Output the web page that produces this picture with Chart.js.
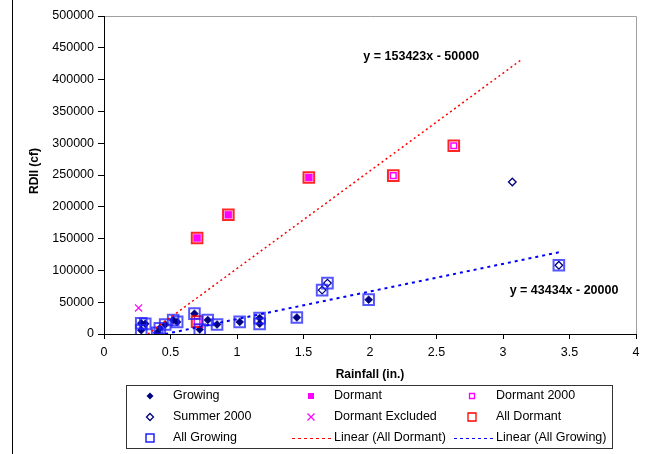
<!DOCTYPE html>
<html>
<head>
<meta charset="utf-8">
<script src="https://cdn.jsdelivr.net/npm/chart.js@4.4.0/dist/chart.umd.min.js"></script>
<style>
  html, body { margin: 0; padding: 0; background: #fff; }
</style>
</head>
<body>
<canvas id="myChart" width="656" height="454"></canvas>
<script>
// values
var growingX = [0.28, 0.31, 0.28, 0.40, 0.42, 0.46, 0.52, 0.55, 0.68, 0.72, 0.78, 0.85, 1.02, 1.17, 1.17, 1.45, 1.99];
var growingY = [17000, 16000, 6000, 2000, 9000, 15000, 22000, 19000, 32000, 7000, 22000, 15000, 19000, 25000, 16000, 26000, 54000];

var summerX = [1.64, 1.68, 3.07, 3.42];
var summerY = [69000, 80000, 239000, 108000];

var dormantX = [0.70, 0.935, 1.54];
var dormantY = [151000, 187500, 246000];

var dormant2000X = [0.70, 2.175, 2.63];
var dormant2000Y = [19500, 249000, 296000];

var excludedX = [0.26];
var excludedY = [41000];

var allDormantX = [0.70, 0.935, 1.54, 0.70, 2.175, 2.63];
var allDormantY = [151000, 187500, 246000, 19500, 249000, 296000];

var allGrowingX = growingX.concat([1.64, 1.68, 3.42]);
var allGrowingY = growingY.concat([69000, 80000, 108000]);

var dormantFitX = [0.33, 3.13];
var dormantFitY = [0, 430000];
var growingFitX = [0.46, 3.42];
var growingFitY = [0, 128500];

var dormantEq = 'y = 153423x - 50000';
var growingEq = 'y = 43434x - 20000';

function pts(xs, ys) {
  return xs.map(function (x, i) { return { x: x, y: ys[i] }; });
}

Chart.defaults.font.family = '"Liberation Sans", Arial, sans-serif';
Chart.defaults.color = '#000';

// marker drawing for the legend box
function marker(ctx, kind, x, y, r, fill, stroke, lw) {
  ctx.save();
  ctx.beginPath();
  if (kind === 'diamond') {
    ctx.moveTo(x - r, y); ctx.lineTo(x, y - r); ctx.lineTo(x + r, y); ctx.lineTo(x, y + r); ctx.closePath();
  } else if (kind === 'square') {
    ctx.rect(x - r, y - r, 2 * r, 2 * r);
  } else if (kind === 'cross') {
    ctx.moveTo(x - r, y - r); ctx.lineTo(x + r, y + r);
    ctx.moveTo(x + r, y - r); ctx.lineTo(x - r, y + r);
  }
  if (fill && kind !== 'cross') { ctx.fillStyle = fill; ctx.fill(); }
  if (stroke) { ctx.strokeStyle = stroke; ctx.lineWidth = lw || 1; ctx.stroke(); }
  ctx.restore();
}

var legendItems = [
  { text: 'Growing', kind: 'diamond', r: 3.5, fill: '#000080' },
  { text: 'Dormant', kind: 'square', r: 3, fill: '#ff00ff' },
  { text: 'Dormant 2000', kind: 'square', r: 2.5, fill: '#fff', stroke: '#ff00ff', lw: 1.3 },
  { text: 'Summer 2000', kind: 'diamond', r: 3.5, fill: '#fff', stroke: '#000080', lw: 1.3 },
  { text: 'Dormant Excluded', kind: 'cross', r: 3.5, stroke: '#ff00ff', lw: 1.2 },
  { text: 'All Dormant', kind: 'square', r: 4, stroke: '#ff0000', lw: 1.3 },
  { text: 'All Growing', kind: 'square', r: 4, stroke: '#2020ff', lw: 1.5 },
  { text: 'Linear (All Dormant)', line: '#ff0000', dash: [3, 3] },
  { text: 'Linear (All Growing)', line: '#0000ff', dash: [3, 3] }
];

var extras = {
  id: 'extras',
  beforeDraw: function (chart) {
    var ctx = chart.ctx;
    ctx.save();
    ctx.fillStyle = '#fff';
    ctx.fillRect(0, 0, chart.width, chart.height);
    // frame line on the far left
    ctx.strokeStyle = '#000';
    ctx.lineWidth = 1;
    ctx.beginPath(); ctx.moveTo(12.5, 0); ctx.lineTo(12.5, chart.height); ctx.stroke();
    // grey top/right border of plot area
    var a = chart.chartArea;
    ctx.strokeStyle = '#a0a0a0';
    ctx.beginPath();
    ctx.moveTo(a.left, a.top + 0.5); ctx.lineTo(a.right + 0.5, a.top + 0.5); ctx.lineTo(a.right + 0.5, a.bottom);
    ctx.stroke();
    ctx.restore();
  },
  afterDraw: function (chart) {
    var ctx = chart.ctx;
    var a = chart.chartArea;
    var xs = chart.scales.x, ys = chart.scales.y;
    ctx.save();
    // axis titles
    ctx.fillStyle = '#000';
    ctx.font = 'bold 12px "Liberation Sans", Arial, sans-serif';
    ctx.textAlign = 'center';
    ctx.textBaseline = 'middle';
    ctx.fillText('Rainfall (in.)', (a.left + a.right) / 2, 375);
    ctx.save();
    ctx.translate(35, (a.top + a.bottom) / 2 - 4);
    ctx.rotate(-Math.PI / 2);
    ctx.fillText('RDII (cf)', 0, 0);
    ctx.restore();
    // trendline equations
    ctx.textAlign = 'left';
    ctx.font = 'bold 12.5px "Liberation Sans", Arial, sans-serif';
    ctx.fillText(dormantEq, xs.getPixelForValue(1.95), ys.getPixelForValue(437000));
    ctx.fillText(growingEq, xs.getPixelForValue(3.05), ys.getPixelForValue(69000));

    // legend box
    ctx.strokeStyle = '#333';
    ctx.lineWidth = 1;
    ctx.strokeRect(126.5, 385.5, 486, 63);
    var colMark = [150, 311, 472], colText = [173, 334, 496], rows = [396, 417, 438];
    ctx.font = '12.5px "Liberation Sans", Arial, sans-serif';
    legendItems.forEach(function (it, i) {
      var c = i % 3, r = Math.floor(i / 3);
      var y = rows[r];
      if (it.line) {
        ctx.save();
        ctx.strokeStyle = it.line;
        ctx.lineWidth = 1.2;
        ctx.setLineDash(it.dash);
        ctx.beginPath(); ctx.moveTo(colText[c] - 42, y + 0.5); ctx.lineTo(colText[c] - 2, y + 0.5); ctx.stroke();
        ctx.restore();
      } else {
        marker(ctx, it.kind, colMark[c], y, it.r, it.fill, it.stroke, it.lw);
      }
      ctx.fillStyle = '#000';
      ctx.fillText(it.text, colText[c], y);
    });
    ctx.restore();
  }
};

var ctx = document.getElementById('myChart').getContext('2d');

var myChart = new Chart(ctx, {
  type: 'scatter',
  data: {
    datasets: [
      { label: 'Growing', data: pts(growingX, growingY), pointStyle: 'rectRot', pointRadius: 4,
        backgroundColor: '#000080', borderColor: '#000080', borderWidth: 0.5, order: 9 },
      { label: 'Dormant', data: pts(dormantX, dormantY), pointStyle: 'rect', pointRadius: 5,
        backgroundColor: '#ff00ff', borderColor: '#ff00ff', borderWidth: 0.5, order: 8 },
      { label: 'Dormant 2000', data: pts(dormant2000X, dormant2000Y), pointStyle: 'rect', pointRadius: 4,
        backgroundColor: '#fff', borderColor: '#ff00ff', borderWidth: 1.5, order: 7 },
      { label: 'Summer 2000', data: pts(summerX, summerY), pointStyle: 'rectRot', pointRadius: 3.8,
        backgroundColor: '#fff', borderColor: '#000080', borderWidth: 1.3, order: 6 },
      { label: 'Dormant Excluded', data: pts(excludedX, excludedY), pointStyle: 'crossRot', pointRadius: 5,
        backgroundColor: '#ff00ff', borderColor: '#ff00ff', borderWidth: 1.2, order: 5 },
      { label: 'All Dormant', data: pts(allDormantX, allDormantY), pointStyle: 'rect', pointRadius: 7.5,
        backgroundColor: 'rgba(0,0,0,0)', borderColor: 'rgba(255,0,0,0.85)', borderWidth: 2, order: 4 },
      { label: 'All Growing', data: pts(allGrowingX, allGrowingY), pointStyle: 'rect', pointRadius: 7.5,
        backgroundColor: 'rgba(0,0,0,0)', borderColor: 'rgba(30,30,255,0.75)', borderWidth: 2, order: 3 },
      { label: 'Linear (All Dormant)', data: pts(dormantFitX, dormantFitY), showLine: true, pointRadius: 0,
        borderColor: '#ff0000', borderWidth: 1.5, borderDash: [2, 3], fill: false, order: 2 },
      { label: 'Linear (All Growing)', data: pts(growingFitX, growingFitY), showLine: true, pointRadius: 0,
        borderColor: '#0000ff', borderWidth: 2, borderDash: [3, 4], fill: false, order: 1 }
    ]
  },
  options: {
    responsive: false,
    animation: false,
    layout: { padding: { left: 0, right: 20, top: 16, bottom: 90 } },
    plugins: {
      legend: { display: false },
      tooltip: { enabled: false }
    },
    scales: {
      x: {
        type: 'linear',
        min: 0, max: 4,
        ticks: { stepSize: 0.5, padding: 6, font: { size: 12.5 }, color: '#000', maxRotation: 0,
          callback: function (v) { return String(v); } },
        grid: { drawOnChartArea: false, tickLength: 5, color: '#000' },
        border: { color: '#000', width: 1 },
        afterFit: function (s) { s.height = 30; }
      },
      y: {
        min: 0, max: 500000,
        ticks: { stepSize: 50000, padding: 4, font: { size: 12.5 }, color: '#000',
          callback: function (v) { return String(v); } },
        grid: { drawOnChartArea: false, tickLength: 6, color: '#000' },
        border: { color: '#000', width: 1 },
        afterFit: function (s) { s.width = 104; }
      }
    }
  },
  plugins: [extras]
});
</script>
</body>
</html>
